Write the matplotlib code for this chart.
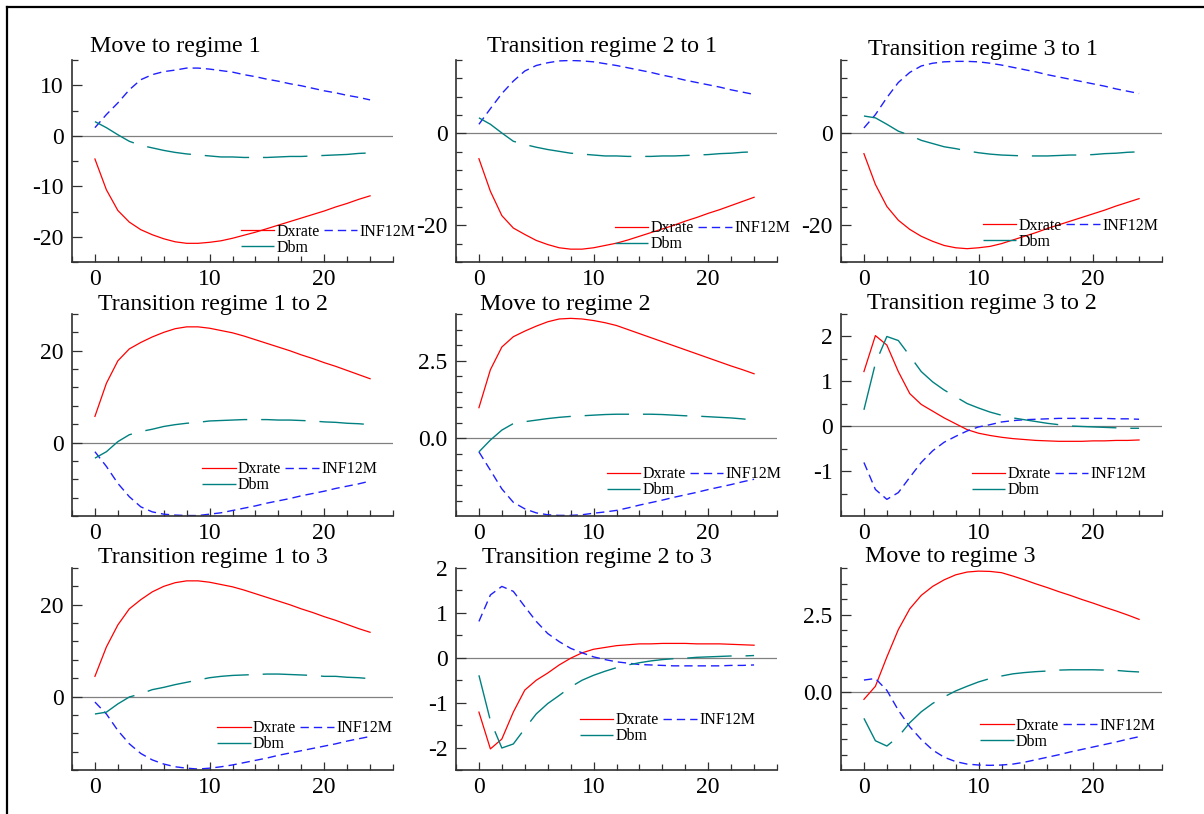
import matplotlib
matplotlib.use("Agg")
import matplotlib.pyplot as plt
from matplotlib.lines import Line2D
from matplotlib.ticker import MultipleLocator, FormatStrFormatter

plt.rcParams['font.family'] = ['Liberation Serif', 'DejaVu Serif']
plt.rcParams['axes.unicode_minus'] = False

horizon = list(range(25))

# Move to regime 1
dxrate_m1 = [-4.6, -10.7, -14.8, -17.1, -18.6, -19.6, -20.4, -21.0, -21.3, -21.3, -21.1, -20.8, -20.3,
             -19.7, -19.1, -18.4, -17.7, -17.0, -16.3, -15.6, -14.9, -14.1, -13.4, -12.6, -11.9]
inf12m_m1 = [1.6, 4.2, 6.5, 9.1, 11.1, 12.1, 12.7, 13.0, 13.4, 13.4, 13.2, 12.9, 12.6,
             12.1, 11.7, 11.2, 10.8, 10.3, 9.9, 9.4, 8.9, 8.5, 8.0, 7.6, 7.1]
dbm_m1 = [2.8, 1.6, 0.2, -1.1, -1.9, -2.4, -2.9, -3.3, -3.6, -3.8, -4.0, -4.2, -4.2,
          -4.3, -4.3, -4.3, -4.2, -4.1, -4.1, -4.0, -3.9, -3.8, -3.7, -3.5, -3.4]

# Transition regime 2 to 1
dxrate_t21 = [-5.5, -12.6, -17.9, -20.6, -22.0, -23.3, -24.2, -24.9, -25.2, -25.2, -24.9, -24.4, -23.9,
              -23.2, -22.4, -21.6, -20.8, -20.0, -19.1, -18.3, -17.4, -16.6, -15.7, -14.8, -13.9]
inf12m_t21 = [2.0, 5.4, 8.7, 11.4, 13.6, 14.8, 15.4, 15.8, 15.9, 15.8, 15.6, 15.2, 14.8,
              14.3, 13.8, 13.3, 12.7, 12.2, 11.6, 11.1, 10.6, 10.1, 9.5, 9.0, 8.5]
dbm_t21 = [3.4, 2.0, 0.1, -1.7, -2.4, -3.0, -3.5, -3.9, -4.3, -4.5, -4.7, -4.9, -4.9,
           -5.0, -5.0, -5.0, -4.9, -4.9, -4.8, -4.7, -4.6, -4.4, -4.3, -4.1, -4.0]

# Transition regime 3 to 1
dxrate_t31 = [-4.4, -11.1, -15.9, -18.9, -20.9, -22.4, -23.5, -24.4, -24.9, -25.1, -24.9, -24.6, -24.0,
              -23.2, -22.4, -21.6, -20.7, -19.9, -19.1, -18.3, -17.5, -16.7, -15.8, -15.0, -14.2]
inf12m_t31 = [1.2, 4.1, 7.8, 11.1, 13.3, 14.7, 15.3, 15.6, 15.7, 15.7, 15.6, 15.3, 14.9,
              14.4, 13.9, 13.4, 12.8, 12.3, 11.8, 11.3, 10.8, 10.3, 9.7, 9.2, 8.7]
dbm_t31 = [3.8, 3.4, 2.0, 0.5, -0.4, -1.5, -2.2, -2.9, -3.3, -3.8, -4.2, -4.5, -4.7,
           -4.8, -4.9, -4.9, -4.9, -4.8, -4.7, -4.7, -4.6, -4.4, -4.3, -4.1, -4.0]

# Transition regime 1 to 2
dxrate_t12 = [5.7, 12.9, 17.8, 20.4, 21.8, 23.0, 24.0, 24.8, 25.2, 25.2, 24.9, 24.4, 23.9,
              23.2, 22.4, 21.6, 20.8, 20.0, 19.1, 18.3, 17.4, 16.6, 15.7, 14.8, 13.9]
inf12m_t12 = [-2.0, -5.2, -8.9, -11.8, -14.0, -15.1, -15.6, -15.8, -15.9, -15.9, -15.6, -15.3, -14.8,
              -14.3, -13.8, -13.2, -12.7, -12.2, -11.6, -11.1, -10.6, -10.0, -9.5, -9.0, -8.4]
dbm_t12 = [-3.4, -2.0, 0.2, 1.7, 2.4, 2.9, 3.5, 3.9, 4.2, 4.4, 4.7, 4.8, 4.9,
           5.0, 5.0, 5.0, 4.9, 4.9, 4.8, 4.7, 4.5, 4.4, 4.2, 4.1, 3.9]

# Move to regime 2
dxrate_m2 = [0.99, 2.21, 2.94, 3.27, 3.45, 3.61, 3.75, 3.84, 3.86, 3.84, 3.79, 3.72, 3.63,
             3.50, 3.37, 3.24, 3.11, 2.98, 2.85, 2.72, 2.59, 2.46, 2.33, 2.21, 2.08]
inf12m_m2 = [-0.43, -1.02, -1.62, -2.05, -2.26, -2.39, -2.45, -2.47, -2.47, -2.45, -2.40, -2.36, -2.31,
             -2.23, -2.14, -2.06, -1.98, -1.89, -1.81, -1.73, -1.64, -1.56, -1.48, -1.39, -1.31]
dbm_m2 = [-0.43, -0.05, 0.27, 0.48, 0.54, 0.59, 0.64, 0.68, 0.71, 0.73, 0.75, 0.77, 0.78,
          0.78, 0.78, 0.78, 0.77, 0.75, 0.73, 0.72, 0.70, 0.68, 0.66, 0.63, 0.59]

# Transition regime 3 to 2
dxrate_t32 = [1.22, 2.02, 1.81, 1.22, 0.73, 0.49, 0.34, 0.19, 0.06, -0.07, -0.15, -0.20, -0.24,
              -0.27, -0.29, -0.31, -0.32, -0.33, -0.33, -0.33, -0.32, -0.32, -0.31, -0.31, -0.30]
inf12m_t32 = [-0.80, -1.40, -1.62, -1.47, -1.13, -0.80, -0.54, -0.35, -0.22, -0.10, -0.01, 0.04, 0.10,
              0.13, 0.15, 0.16, 0.17, 0.18, 0.18, 0.18, 0.18, 0.18, 0.17, 0.17, 0.16]
dbm_t32 = [0.37, 1.40, 2.00, 1.91, 1.57, 1.22, 0.99, 0.81, 0.66, 0.51, 0.41, 0.32, 0.25,
           0.19, 0.15, 0.11, 0.07, 0.04, 0.01, 0.00, -0.01, -0.02, -0.03, -0.04, -0.04]

# Transition regime 1 to 3
dxrate_t13 = [4.4, 10.8, 15.6, 19.1, 21.1, 22.8, 24.0, 24.8, 25.2, 25.2, 24.9, 24.4, 23.9,
              23.2, 22.4, 21.6, 20.8, 20.0, 19.1, 18.3, 17.4, 16.6, 15.7, 14.8, 14.0]
inf12m_t13 = [-1.2, -3.8, -7.4, -10.3, -12.4, -13.8, -14.7, -15.3, -15.6, -15.8, -15.6, -15.3, -14.9,
              -14.4, -13.9, -13.4, -12.8, -12.3, -11.8, -11.3, -10.8, -10.3, -9.7, -9.2, -8.7]
dbm_t13 = [-3.8, -3.4, -1.6, -0.1, 0.6, 1.5, 2.0, 2.6, 3.1, 3.6, 4.1, 4.4, 4.6,
           4.7, 4.8, 4.9, 4.9, 4.8, 4.7, 4.6, 4.4, 4.4, 4.2, 4.1, 3.9]

# Transition regime 2 to 3
dxrate_t23 = [-1.21, -2.03, -1.81, -1.21, -0.72, -0.50, -0.34, -0.16, -0.01, 0.11, 0.19, 0.23, 0.27,
              0.29, 0.31, 0.31, 0.32, 0.32, 0.32, 0.31, 0.31, 0.31, 0.30, 0.29, 0.28]
inf12m_t23 = [0.81, 1.40, 1.59, 1.48, 1.14, 0.81, 0.54, 0.36, 0.21, 0.11, 0.02, -0.04, -0.09,
              -0.12, -0.15, -0.16, -0.17, -0.18, -0.18, -0.18, -0.18, -0.18, -0.17, -0.17, -0.16]
dbm_t23 = [-0.39, -1.40, -2.01, -1.92, -1.58, -1.25, -1.02, -0.84, -0.65, -0.50, -0.39, -0.30, -0.22,
           -0.16, -0.11, -0.07, -0.04, -0.02, -0.01, 0.01, 0.02, 0.03, 0.04, 0.04, 0.05]

# Move to regime 3
dxrate_m3 = [-0.22, 0.20, 1.14, 2.02, 2.69, 3.12, 3.41, 3.62, 3.78, 3.87, 3.90, 3.89, 3.85,
             3.74, 3.62, 3.49, 3.37, 3.24, 3.12, 2.99, 2.87, 2.74, 2.62, 2.49, 2.35]
inf12m_m3 = [0.40, 0.45, 0.07, -0.57, -1.10, -1.51, -1.85, -2.08, -2.22, -2.30, -2.33, -2.34, -2.33,
             -2.30, -2.24, -2.16, -2.08, -2.00, -1.91, -1.83, -1.75, -1.67, -1.59, -1.50, -1.42]
dbm_m3 = [-0.83, -1.55, -1.72, -1.42, -0.97, -0.62, -0.35, -0.14, 0.05, 0.20, 0.34, 0.45, 0.53,
          0.60, 0.64, 0.67, 0.69, 0.72, 0.73, 0.73, 0.73, 0.72, 0.71, 0.68, 0.66]

titles = ["Move to regime 1", "Transition regime 2 to 1", "Transition regime 3 to 1",
          "Transition regime 1 to 2", "Move to regime 2", "Transition regime 3 to 2",
          "Transition regime 1 to 3", "Transition regime 2 to 3", "Move to regime 3"]
series = [(dxrate_m1, inf12m_m1, dbm_m1), (dxrate_t21, inf12m_t21, dbm_t21), (dxrate_t31, inf12m_t31, dbm_t31),
          (dxrate_t12, inf12m_t12, dbm_t12), (dxrate_m2, inf12m_m2, dbm_m2), (dxrate_t32, inf12m_t32, dbm_t32),
          (dxrate_t13, inf12m_t13, dbm_t13), (dxrate_t23, inf12m_t23, dbm_t23), (dxrate_m3, inf12m_m3, dbm_m3)]

# y range, major step, minor step, label format
yaxes = [((-25, 15), 10, 5, '%d'), ((-28, 16), 20, 4, '%d'), ((-28, 16), 20, 4, '%d'),
         ((-16, 28), 20, 4, '%d'), ((-2.49, 4), 2.5, 0.5, '%.1f'), ((-1.99, 2.5), 1, 0.5, '%d'),
         ((-16, 28), 20, 4, '%d'), ((-2.5, 2), 1, 0.5, '%d'), ((-2.49, 4), 2.5, 0.5, '%.1f')]

# layout (figure pixels) and text placement (axes fractions)
W, H = 1204, 814
col_left = [72, 456, 841]
row_top = [60, 314, 568]
ax_w, ax_h = 321, 202
title_pos = [(0.056, 1.041), (0.097, 1.041), (0.084, 1.025),
             (0.081, 1.021), (0.075, 1.021), (0.081, 1.025),
             (0.081, 1.025), (0.081, 1.025), (0.075, 1.028)]
legend_pos = [(0.525, 0.109), (0.495, 0.128), (0.442, 0.140),
              (0.405, 0.192), (0.469, 0.166), (0.407, 0.166),
              (0.452, 0.167), (0.386, 0.206), (0.433, 0.178)]

fig = plt.figure(figsize=(W / 100, H / 100), dpi=100)

# outer frame
fig.add_artist(Line2D([7 / W, 7 / W], [1 - 7 / H, -0.1], color='black', lw=1.6))
fig.add_artist(Line2D([7 / W, 1.1], [1 - 7 / H, 1 - 7 / H], color='black', lw=1.6))

for i in range(9):
    r, c = divmod(i, 3)
    ax = fig.add_axes([col_left[c] / W, 1 - (row_top[r] + ax_h) / H, ax_w / W, ax_h / H])
    dx, inf, dbm = series[i]
    ylim, major, minor, fmt = yaxes[i]

    ax.axhline(0, color='#808080', lw=0.9, zorder=1)
    l1, = ax.plot(horizon, dx, color='#ff0000', lw=0.9, label='Dxrate')
    l2, = ax.plot(horizon, inf, color='#2020ff', lw=1.0, dashes=(6, 3.6), label='INF12M')
    l3, = ax.plot(horizon, dbm, color='#008080', lw=1.0, dashes=(32, 10), label='Dbm')

    ax.set_xlim(-2, 26)
    ax.set_ylim(*ylim)
    ax.xaxis.set_major_locator(MultipleLocator(10))
    ax.xaxis.set_minor_locator(MultipleLocator(2))
    ax.yaxis.set_major_locator(MultipleLocator(major))
    ax.yaxis.set_minor_locator(MultipleLocator(minor))
    ax.yaxis.set_major_formatter(FormatStrFormatter(fmt))

    for side in ('top', 'right'):
        ax.spines[side].set_visible(False)
    for side in ('left', 'bottom'):
        ax.spines[side].set_color('#303030')
        ax.spines[side].set_linewidth(1.2)
    ax.tick_params(which='major', direction='in', length=7, width=0.9, color='#303030',
                   labelsize=17)
    ax.tick_params(which='minor', direction='in', length=4, width=0.9, color='#303030')
    ax.tick_params(axis='x', which='major', length=5.5, pad=5)
    ax.tick_params(axis='y', which='major', pad=6)

    tx, ty = title_pos[i]
    ax.text(tx, ty, titles[i], transform=ax.transAxes, ha='left', va='baseline', fontsize=17.2)

    lx, ly = legend_pos[i]
    ax.legend([l1, l3, l2], ['Dxrate', 'Dbm', 'INF12M'], ncol=2, loc='center left',
              bbox_to_anchor=(lx, ly), frameon=False, fontsize=11.5, borderpad=0,
              borderaxespad=0, handlelength=2.1, handletextpad=0.15, columnspacing=0.25,
              labelspacing=0.0)

fig.savefig('out.png', dpi=100)
